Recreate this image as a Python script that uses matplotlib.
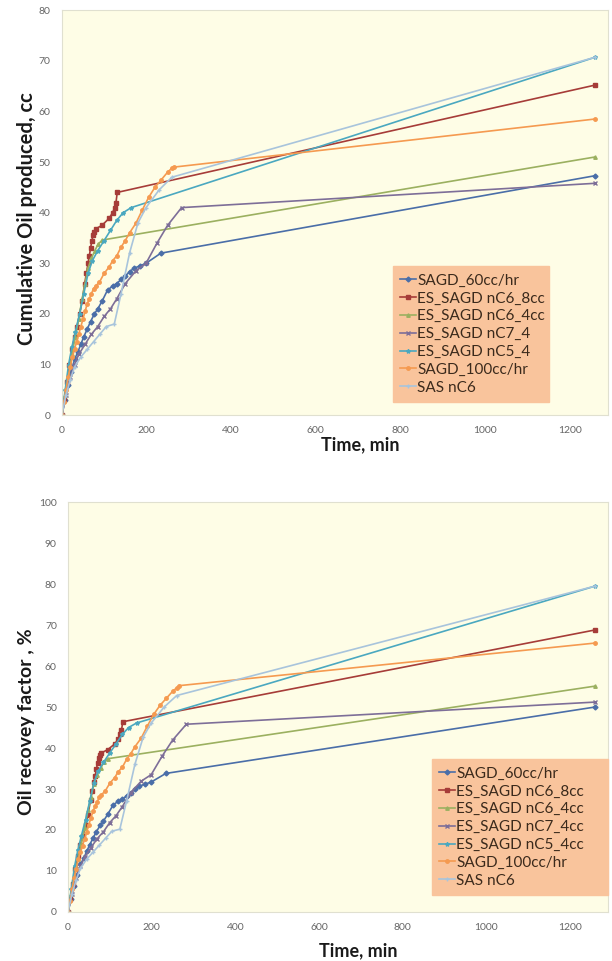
import matplotlib.pyplot as plt

plt.rcParams['font.family'] = ['Lato', 'DejaVu Sans']

series_names = ['SAGD_60cc/hr', 'ES_SAGD nC6_8cc', 'ES_SAGD nC6_4cc', 'ES_SAGD nC7_4',
                'ES_SAGD nC5_4', 'SAGD_100cc/hr', 'SAS nC6']
series_names_rf = ['SAGD_60cc/hr', 'ES_SAGD nC6_8cc', 'ES_SAGD nC6_4cc', 'ES_SAGD nC7_4cc',
                   'ES_SAGD nC5_4cc', 'SAGD_100cc/hr', 'SAS nC6']

# time, min
t_sagd60 = [0, 8, 15, 22, 30, 38, 45, 52, 60, 68, 77, 85, 95, 108, 120, 130, 140, 150, 160, 170, 185, 199, 234, 1260]
t_nc6_8 = [0, 6, 12, 18, 24, 30, 36, 42, 48, 54, 58, 62, 65, 68, 71, 74, 77, 80, 95, 112, 120, 125, 128, 131, 1260]
t_nc6_4 = [0, 8, 16, 24, 32, 40, 48, 55, 62, 70, 78, 86, 96, 1260]
t_nc7_4 = [0, 10, 20, 30, 40, 55, 70, 85, 100, 115, 130, 150, 175, 199, 225, 250, 283, 1260]
t_nc5_4 = [0, 8, 16, 24, 32, 42, 52, 62, 72, 85, 100, 115, 130, 145, 164, 1260]
t_sagd100 = [0, 5, 10, 15, 20, 25, 30, 35, 40, 45, 50, 55, 60, 65, 70, 75, 80, 89, 100, 112, 120, 130,
             140, 150, 160, 175, 190, 205, 220, 235, 250, 260, 265, 1260]
t_sas = [0, 10, 20, 30, 45, 60, 75, 90, 105, 124, 140, 160, 180, 199, 230, 260, 1260]

# cumulative oil produced, cc
cc_sagd60 = [0, 3, 6, 8.5, 11, 12.5, 14, 15.5, 17, 18.5, 20, 21, 22.5, 24.7, 25.5, 26, 26.8, 27.5, 28.3, 29, 29.5, 30, 32, 47.3]
cc_nc6_8 = [0, 3, 6.5, 10, 13, 15.5, 17.5, 20, 22.5, 26, 28, 30, 31.5, 33, 34.5, 35.5, 36.2, 36.8, 37.5, 38.9, 40, 41, 42, 44, 65.2]
cc_nc6_4 = [0, 4, 8, 12, 15.5, 19, 23, 26, 29, 31, 32.5, 33.8, 34.6, 51]
cc_nc7_4 = [0, 4, 7.5, 10, 12, 14, 16, 17.5, 19.5, 21, 23, 26, 28.5, 30, 34, 37.5, 41, 45.8]
cc_nc5_4 = [0, 5, 10, 13.5, 16.5, 20, 24, 28, 30.5, 32.5, 34.5, 36.5, 38.5, 40, 41, 70.7]
cc_sagd100 = [0, 2.5, 5, 7.5, 9.5, 11.5, 13, 14.5, 16, 17.5, 19, 20.5, 22, 23, 24, 25, 25.5, 26.3, 28, 29.3, 30.5,
              31.5, 33.2, 34.5, 36, 37.9, 40.5, 43, 45, 46.5, 48, 48.8, 49, 58.5]
cc_sas = [0, 4, 7, 9.5, 11.5, 13, 14.5, 16, 17.5, 18, 24, 32, 38, 41, 44.5, 47, 70.7]

# oil recovery factor, %
rf_sagd60 = [0, 3.2, 6.3, 9, 11.6, 13.2, 14.8, 16.4, 18, 19.6, 21.1, 22.2, 23.8, 26.1, 27, 27.5, 28.3, 29.1, 29.9, 30.7, 31.2, 31.7, 33.8, 50]
rf_nc6_8 = [0, 3.2, 6.9, 10.6, 13.7, 16.4, 18.5, 21.1, 23.7, 27.4, 29.5, 31.7, 33.2, 34.8, 36.4, 37.5, 38.2, 38.8, 39.6, 41, 42.2, 43.3, 44.3, 46.4, 68.8]
rf_nc6_4 = [0, 4.3, 8.6, 13, 16.7, 20.5, 24.8, 28, 31.3, 33.5, 35.1, 36.5, 37.4, 55.1]
rf_nc7_4 = [0, 4.5, 8.4, 11.2, 13.4, 15.7, 17.9, 19.6, 21.8, 23.5, 25.7, 29.1, 31.9, 33.5, 38, 41.9, 45.8, 51.2]
rf_nc5_4 = [0, 5.6, 11.2, 15.2, 18.5, 22.5, 27, 31.5, 34.3, 36.5, 38.8, 41, 43.3, 45, 46.1, 79.5]
rf_sagd100 = [0, 2.8, 5.6, 8.4, 10.6, 12.9, 14.6, 16.2, 17.9, 19.6, 21.3, 23, 24.6, 25.8, 26.9, 28, 28.6, 29.5, 31.4,
              32.8, 34.2, 35.3, 37.2, 38.6, 40.3, 42.4, 45.4, 48.2, 50.4, 52.1, 53.8, 54.7, 55.2, 65.6]
rf_sas = [0, 4.5, 7.9, 10.7, 12.9, 14.6, 16.3, 18, 19.7, 20.2, 27, 36, 42.7, 46.1, 50, 52.8, 79.5]

times = [t_sagd60, t_nc6_8, t_nc6_4, t_nc7_4, t_nc5_4, t_sagd100, t_sas]
cc_all = [cc_sagd60, cc_nc6_8, cc_nc6_4, cc_nc7_4, cc_nc5_4, cc_sagd100, cc_sas]
rf_all = [rf_sagd60, rf_nc6_8, rf_nc6_4, rf_nc7_4, rf_nc5_4, rf_sagd100, rf_sas]

colors = ['#4a6ea8', '#a63c38', '#9bb060', '#7d6e98', '#4aa8c0', '#f59a50', '#a8c4dc']
markers = ['D', 's', '^', 'x', '*', 'o', '+']
msizes = [2.5, 3.5, 2.5, 2.5, 3, 2.5, 2.5]


def draw_panel(ax, values, names, yticks, ylabel, ylab_size, label_xy, xlabel_xy, leg_box):
    ax.set_facecolor('#fefde6')
    for t, v, name, c, m, ms in zip(times, values, names, colors, markers, msizes):
        ax.plot(t, v, color=c, marker=m, markersize=ms, linewidth=1.2, label=name)
    ax.set_xlim(0, 1290)
    ax.set_ylim(0, yticks[-1])
    ax.set_xticks([0, 200, 400, 600, 800, 1000, 1200])
    ax.set_yticks(yticks)
    ax.tick_params(length=0, labelsize=7.5, labelcolor='#666666', pad=8)
    for s in ax.spines.values():
        s.set_color('#e0e0d0')
    ax.set_ylabel(ylabel, fontsize=ylab_size, fontweight='bold', color='#1a1a1a')
    ax.yaxis.set_label_coords(*label_xy)
    ax.set_xlabel('Time, min', fontsize=13, fontweight='bold', color='#1a1a1a')
    ax.xaxis.set_label_coords(*xlabel_xy)
    leg = ax.legend(loc='lower left', bbox_to_anchor=leg_box, mode='expand', fontsize=11,
                    handlelength=1.0, handletextpad=0.1, labelspacing=0.25, borderpad=0.5,
                    borderaxespad=0, fancybox=False, framealpha=1)
    leg.get_frame().set_facecolor('#f9c49c')
    leg.get_frame().set_edgecolor('#f9c49c')
    for txt in leg.get_texts():
        txt.set_color('#3b2a1c')


fig = plt.figure(figsize=(6.12, 9.61), dpi=100)

ax1 = fig.add_axes([0.101, 0.568, 0.892, 0.4214])
draw_panel(ax1, cc_all, series_names, [0, 10, 20, 30, 40, 50, 60, 70, 80],
           'Cumulative Oil produced, cc', 14.5, (-0.046, 0.485), (0.546, -0.052),
           (0.606, 0.032, 0.286, 0.363))

ax2 = fig.add_axes([0.111, 0.051, 0.882, 0.4266])
draw_panel(ax2, rf_all, series_names_rf, [0, 10, 20, 30, 40, 50, 60, 70, 80, 90, 100],
           'Oil recovey factor , %', 14, (-0.061, 0.463), (0.537, -0.073),
           (0.674, 0.041, 0.326, 0.383))

fig.savefig('out.png', dpi=100)
